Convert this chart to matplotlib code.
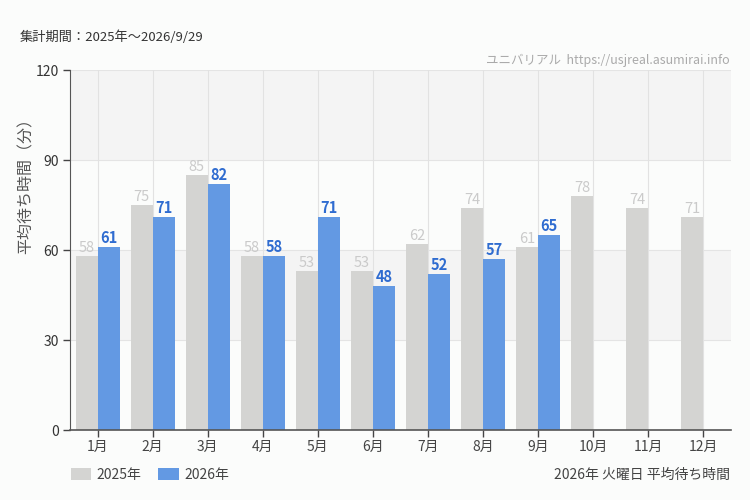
import matplotlib
matplotlib.use("Agg")
import matplotlib.pyplot as plt
import numpy as np

plt.rcParams['font.family'] = ['Noto Sans CJK JP', 'DejaVu Sans']

# --- data ---
months = ["1月", "2月", "3月", "4月", "5月", "6月", "7月", "8月", "9月", "10月", "11月", "12月"]
wait_2025 = [58, 75, 85, 58, 53, 53, 62, 74, 61, 78, 74, 71]
wait_2026 = [61, 71, 82, 58, 71, 48, 52, 57, 65]
y_ticks = [0, 30, 60, 90, 120]

BG = "#fbfcfb"
GRAY = "#d4d4d2"
BLUE = "#6399e3"

fig = plt.figure(figsize=(7.5, 5), dpi=100, facecolor=BG)
ax = fig.add_axes([70 / 750, 1 - 430 / 500, 661 / 750, 360 / 500])
ax.set_facecolor(BG)

# alternating horizontal bands
for lo in (30, 90):
    ax.axhspan(lo, lo + 30, color="#f4f4f4", zorder=0, lw=0)
for yv in y_ticks[1:]:
    ax.axhline(yv, color="#e4e4e4", lw=0.8, zorder=0.5)

x = np.arange(len(months))
w = 0.4
for xi in x:
    ax.axvline(xi, color="#e2e2e2", lw=0.8, zorder=0.5)

ax.bar(x - w / 2, wait_2025, width=w, color=GRAY, zorder=2, label="2025年")
x26 = x[:len(wait_2026)]
ax.bar(x26 + w / 2, wait_2026, width=w, color=BLUE, zorder=2, label="2026年")

for xi, v in zip(x, wait_2025):
    ax.text(xi - w / 2, v + 0.4, str(v), ha="center", va="bottom",
            fontsize=10.5, color="#cacaca", zorder=3)
for xi, v in zip(x26, wait_2026):
    ax.text(xi + w / 2, v + 0.4, str(v), ha="center", va="bottom",
            fontsize=10.5, color="#2f6cd0", fontweight="bold", zorder=3)

ax.set_xlim(-0.5, len(months) - 0.5)
ax.set_ylim(0, 120)
ax.set_yticks(y_ticks)
ax.set_yticklabels([str(t) for t in y_ticks], fontsize=10, color="#333333")
ax.set_xticks(x)
ax.set_xticklabels(months, fontsize=10, color="#444444")
ax.tick_params(axis="y", length=5, width=1, color="#444444", pad=3)
ax.tick_params(axis="x", length=5, width=1, color="#444444", pad=2)

for s in ("top", "right"):
    ax.spines[s].set_visible(False)
ax.spines["left"].set_color("#555555")
ax.spines["bottom"].set_color("#555555")
ax.spines["bottom"].set_linewidth(1.2)

ax.set_ylabel("平均待ち時間（分）", fontsize=11.5, color="#555555")
ax.yaxis.set_label_coords(-0.053, 0.689)

fig.text(20 / 750, 1 - 37 / 500, "集計期間：2025年～2026/9/29", fontsize=9.5,
         color="#333333", va="center", ha="left")
fig.text(730 / 750, 1 - 60 / 500, "ユニバリアル  https://usjreal.asumirai.info", fontsize=9,
         color="#aaaaaa", va="center", ha="right")
fig.text(730 / 750, 1 - 475 / 500, "2026年 火曜日 平均待ち時間", fontsize=10,
         color="#444444", va="center", ha="right")

leg = fig.legend(loc="center left", bbox_to_anchor=(58 / 750, 1 - 475 / 500), ncol=2,
                 frameon=False, fontsize=10, handlelength=1.5, handleheight=1.0,
                 handletextpad=0.4, columnspacing=1.2)
for t in leg.get_texts():
    t.set_color("#444444")

fig.savefig("out.png", dpi=100, facecolor=BG)
